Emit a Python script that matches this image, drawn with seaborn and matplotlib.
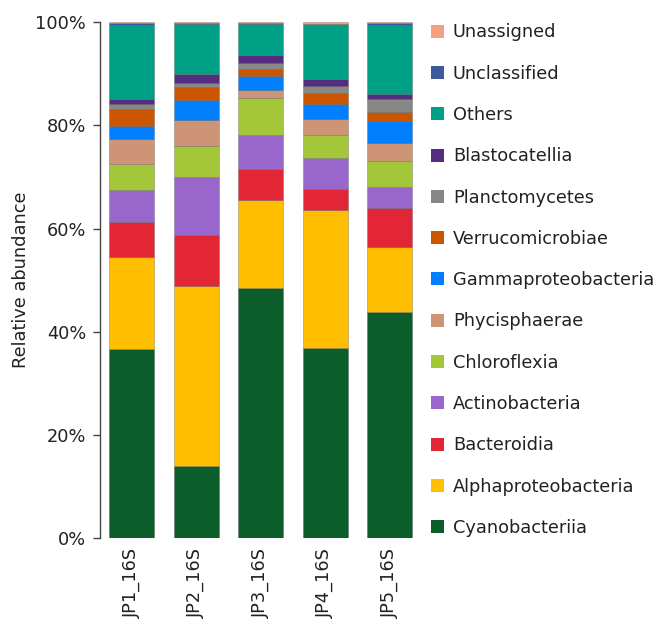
import matplotlib
matplotlib.use("Agg")
import matplotlib.pyplot as plt
from matplotlib.ticker import FuncFormatter
import pandas as pd
import seaborn as sns

samples = ["JP1_16S", "JP2_16S", "JP3_16S", "JP4_16S", "JP5_16S"]

# taxa listed top of stack first (legend order)
taxa = ["Unassigned", "Unclassified", "Others", "Blastocatellia", "Planctomycetes",
        "Verrucomicrobiae", "Gammaproteobacteria", "Phycisphaerae", "Chloroflexia",
        "Actinobacteria", "Bacteroidia", "Alphaproteobacteria", "Cyanobacteriia"]

colors = ["#F4A083", "#3D5A99", "#00A086", "#552D7F", "#878785",
          "#CC5500", "#0080FF", "#CD9575", "#A4C639",
          "#9966CC", "#E32636", "#FFBF00", "#0B5D2A"]

# relative abundance (%) per sample
unassigned          = [0.05, 0.20, 0.05, 0.30, 0.20]
unclassified        = [0.45, 0.05, 0.20, 0.10, 0.30]
others              = [14.40, 9.85, 6.10, 10.60, 13.30]
blastocatellia      = [1.00, 1.60, 1.55, 1.30, 1.00]
planctomycetes      = [1.00, 0.90, 1.20, 1.40, 2.60]
verrucomicrobiae    = [3.20, 2.50, 1.30, 2.20, 1.70]
gammaproteobacteria = [2.60, 3.90, 2.70, 2.90, 4.30]
phycisphaerae       = [4.70, 4.90, 1.50, 2.95, 3.40]
chloroflexia        = [5.20, 6.10, 7.30, 4.55, 5.20]
actinobacteria      = [6.20, 11.20, 6.45, 6.10, 4.00]
bacteroidia         = [6.60, 9.90, 6.15, 4.00, 7.55]
alphaproteobacteria = [17.90, 34.90, 17.00, 26.70, 12.65]
cyanobacteriia      = [36.70, 14.00, 48.50, 36.90, 43.80]

values = [unassigned, unclassified, others, blastocatellia, planctomycetes,
          verrucomicrobiae, gammaproteobacteria, phycisphaerae, chloroflexia,
          actinobacteria, bacteroidia, alphaproteobacteria, cyanobacteriia]

rows = []
for taxon, vals in zip(taxa, values):
    for i, (s, v) in enumerate(zip(samples, vals)):
        rows.append({"pos": i, "sample": s, "taxon": taxon, "abundance": v})
df = pd.DataFrame(rows)

sns.set_style("white")
plt.rcParams["font.family"] = ["DejaVu Sans"]

FS = 12.8

fig = plt.figure(figsize=(6.54, 6.20), dpi=100)
ax = fig.add_axes([0.153, 0.132, 0.491, 0.832])

sns.histplot(data=df, x="pos", weights="abundance", hue="taxon",
             hue_order=taxa, palette=colors, multiple="stack",
             discrete=True, shrink=0.7, alpha=1, ax=ax, legend=False,
             edgecolor=(0.3, 0.3, 0.3, 0.35), linewidth=0.6)

ax.set_xlim(-0.49, 4.49)
ax.set_ylim(0, 100)
ax.set_yticks([0, 20, 40, 60, 80, 100])
ax.yaxis.set_major_formatter(FuncFormatter(lambda v, p: f"{v:.0f}%"))
ax.set_xticks(range(len(samples)))
ax.set_xticklabels(samples, rotation=90, fontsize=FS, color="#222222")
ax.tick_params(axis="y", which="major", left=True, length=5, width=1,
               color="#444444", labelsize=FS, labelcolor="#222222", pad=5)
ax.tick_params(axis="x", length=0, pad=7)
ax.set_xlabel("")
ax.set_ylabel("Relative abundance", fontsize=FS, color="#222222", labelpad=4)

for side in ["top", "right", "bottom"]:
    ax.spines[side].set_visible(False)
ax.spines["left"].set_color("#444444")
ax.spines["left"].set_linewidth(1)

handles = [plt.Rectangle((0, 0), 1, 1, facecolor=c, edgecolor="none") for c in colors]
fig.legend(handles, taxa, loc="upper left", bbox_to_anchor=(0.634, 0.988),
           frameon=False, fontsize=FS, handlelength=0.75, handleheight=0.75,
           handletextpad=0.5, labelspacing=1.31, labelcolor="#222222")

fig.savefig("out.png", dpi=100)
